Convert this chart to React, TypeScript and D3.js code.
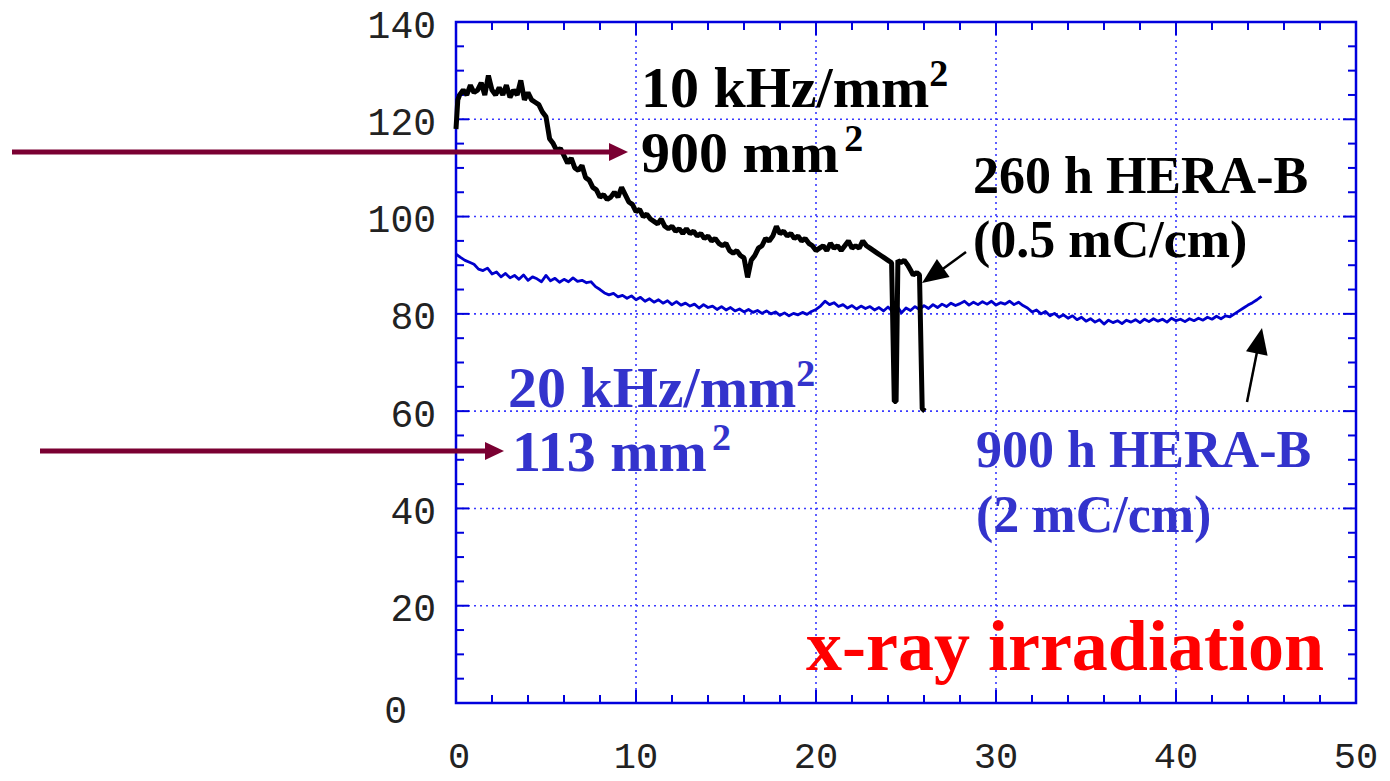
import React from "react";
import * as d3 from "d3";

// ---------- data ----------
const xTickValues = [0, 10, 20, 30, 40, 50];
const yTickValues = [0, 20, 40, 60, 80, 100, 120, 140];
const xMinorStep = 2;
const yMinorStep = 5;

// 10 kHz/mm², 900 mm² (black)
const blackSeries: [number, number][] = [
  [0, 118], [0.1, 124], [0.2, 125], [0.4, 126], [0.6, 125], [0.8, 127], [1.0, 125.5], [1.2, 126],
  [1.4, 127.5], [1.6, 125], [1.8, 129], [2.0, 126], [2.2, 125], [2.4, 126.5], [2.6, 125],
  [2.8, 127], [3.0, 124.5], [3.2, 126], [3.4, 125], [3.6, 128], [3.8, 124], [4.0, 125.5],
  [4.2, 124], [4.4, 123.5], [4.6, 123], [4.8, 121.5], [5.0, 120.5], [5.2, 116], [5.4, 115],
  [5.6, 113.5], [5.8, 114], [6.0, 112.5], [6.2, 111], [6.4, 112], [6.6, 110], [6.8, 109.5],
  [7.0, 110.5], [7.2, 108], [7.4, 107.5], [7.6, 106], [7.8, 105.5], [8.0, 104], [8.2, 104.5],
  [8.4, 103.5], [8.6, 104], [8.8, 105], [9.0, 104], [9.2, 106], [9.4, 104.5], [9.6, 103],
  [9.8, 102.5], [10.0, 101], [10.2, 101.5], [10.4, 100], [10.6, 100.5], [10.8, 99.5],
  [11.0, 99], [11.2, 98.5], [11.4, 99.5], [11.6, 98], [11.8, 97.5], [12.0, 98], [12.2, 97],
  [12.4, 97.5], [12.6, 96.5], [12.8, 97.5], [13.0, 96.5], [13.2, 97], [13.4, 96], [13.6, 96.5],
  [13.8, 95.5], [14.0, 96], [14.2, 95], [14.4, 95.5], [14.6, 94.5], [14.8, 94], [15.0, 94.5],
  [15.2, 93], [15.4, 92.5], [15.6, 93], [15.8, 92], [16.0, 91.5], [16.2, 87.5], [16.4, 91],
  [16.6, 92], [16.8, 93.5], [17.0, 94], [17.2, 95.5], [17.4, 95], [17.6, 96], [17.8, 98],
  [18.0, 96.5], [18.2, 97], [18.4, 96], [18.6, 96.5], [18.8, 95.5], [19.0, 96], [19.2, 95],
  [19.4, 95.5], [19.6, 94.5], [19.8, 94], [20.0, 93], [20.2, 93.5], [20.4, 94], [20.6, 93],
  [20.8, 94.5], [21.0, 93.5], [21.2, 94], [21.4, 93], [21.6, 94], [21.8, 95], [22.0, 93.5],
  [22.2, 94], [22.4, 93.5], [22.6, 95], [22.8, 94], [23.0, 93.5], [23.2, 93], [23.4, 92.5],
  [23.6, 92], [23.8, 91.5], [24.0, 91], [24.2, 90.5], [24.35, 62], [24.45, 62], [24.55, 91],
  [24.7, 90.5], [24.9, 91], [25.1, 90], [25.25, 89], [25.4, 88], [25.6, 88.5], [25.75, 88],
  [25.9, 60.5], [26.05, 60],
];

// 20 kHz/mm², 113 mm² (blue)
const blueStart = 0;
const blueStep = 0.25;
const blueValues = [
  92.3, 91.6, 91.0, 90.6, 90.2, 89.2, 88.9, 89.4, 88.2, 88.6,
  87.6, 88.3, 87.4, 87.9, 87.1, 88.0, 86.9, 87.6, 87.2, 86.6,
  87.9, 86.8, 87.3, 86.5, 87.1, 86.6, 87.4, 86.7, 86.9, 86.4,
  86.6, 85.6, 85.0, 84.3, 83.9, 84.2, 83.5, 83.8, 83.2, 83.7,
  82.9, 83.4, 82.6, 83.1, 82.4, 82.9, 82.2, 82.7, 81.9, 82.5,
  81.8, 82.2, 81.6, 82.0, 81.2, 81.9, 81.3, 81.6, 80.9, 81.5,
  80.8, 81.3, 80.6, 81.0, 80.4, 80.9, 80.3, 80.7, 80.1, 80.6,
  80.0, 80.4, 79.7, 80.2, 79.6, 80.1, 79.8, 80.3, 79.9, 80.5,
  80.9, 81.6, 82.6, 81.9, 82.3, 81.5, 81.9, 81.2, 81.7, 81.0,
  81.6, 81.1, 81.5, 80.8, 81.3, 80.6, 81.4, 80.5, 81.6, 80.2,
  81.2, 80.7, 81.5, 80.9, 81.7, 81.1, 81.9, 81.3, 82.0, 81.5,
  82.2, 81.7, 82.1, 82.6, 81.8, 82.4, 81.9, 82.5, 82.0, 82.6,
  81.8, 82.3, 82.0, 82.6, 81.9, 82.4, 81.7, 81.2, 80.4, 80.8,
  80.0, 80.5, 79.6, 80.1, 79.3, 79.8, 79.1, 79.6, 78.8, 79.3,
  78.5, 79.0, 78.3, 78.8, 77.9, 78.7, 78.2, 78.6, 78.0, 78.7,
  78.3, 78.8, 78.2, 78.9, 78.4, 79.0, 78.5, 78.9, 78.3, 79.1,
  78.6, 78.9, 78.4, 79.0, 78.6, 79.1, 78.7, 79.3, 78.9, 79.5,
  79.0, 79.6, 79.4, 80.0, 80.6, 81.2, 81.8, 82.3, 82.9, 83.6,
];

// ---------- layout ----------
const W = 1390;
const H = 781;
const left = 456, right = 1356, top = 22, bottom = 703;

const AXIS_BLUE = "#0000dd";
const GRID_BLUE = "#3a3aff";
const TEXT_BLUE = "#3333cc";
const LINE_BLUE = "#0000cc";
const MAROON = "#7a0032";

export default function App() {
  const x = d3.scaleLinear().domain([0, 50]).range([left, right]);
  const y = d3.scaleLinear().domain([0, 140]).range([bottom, top]);

  const line = d3
    .line<[number, number]>()
    .x((d) => x(d[0]))
    .y((d) => y(d[1]));

  const bluePts: [number, number][] = blueValues.map((v, i) => [blueStart + i * blueStep, v]);

  const xMinor = d3.range(0, 50 + 1e-9, xMinorStep).filter((v) => v % 10 !== 0);
  const yMinor = d3.range(0, 140 + 1e-9, yMinorStep).filter((v) => v % 20 !== 0);

  const serif = "'Liberation Serif', 'Times New Roman', serif";
  const mono = "'Liberation Mono', 'DejaVu Sans Mono', monospace";

  const arrowHead = (x1: number, y1: number, x2: number, y2: number, len: number, hw: number) => {
    const a = Math.atan2(y2 - y1, x2 - x1);
    const bx = x2 - len * Math.cos(a);
    const by = y2 - len * Math.sin(a);
    const px = -Math.sin(a) * hw;
    const py = Math.cos(a) * hw;
    return `${x2},${y2} ${bx + px},${by + py} ${bx - px},${by - py}`;
  };

  return (
    <svg
      width={W}
      height={H}
      style={{ position: "absolute", left: 0, top: 0, background: "#fff" }}
    >
      <rect x={0} y={0} width={W} height={H} fill="#fff" />
      {/* grid */}
      {xTickValues.filter((v) => v > 0 && v < 50).map((v) => (
        <line key={"gx" + v} x1={x(v)} x2={x(v)} y1={top} y2={bottom}
          stroke={GRID_BLUE} strokeWidth={1.6} strokeDasharray="2,4" />
      ))}
      {yTickValues.filter((v) => v > 0 && v < 140).map((v) => (
        <line key={"gy" + v} x1={left} x2={right} y1={y(v)} y2={y(v)}
          stroke={GRID_BLUE} strokeWidth={1.6} strokeDasharray="2,4" />
      ))}

      {/* ticks */}
      {xTickValues.map((v) => (
        <g key={"tx" + v}>
          <line x1={x(v)} x2={x(v)} y1={bottom} y2={bottom - 13} stroke={AXIS_BLUE} strokeWidth={2} />
          <line x1={x(v)} x2={x(v)} y1={top} y2={top + 13} stroke={AXIS_BLUE} strokeWidth={2} />
        </g>
      ))}
      {xMinor.map((v) => (
        <g key={"mx" + v}>
          <line x1={x(v)} x2={x(v)} y1={bottom} y2={bottom - 8} stroke={AXIS_BLUE} strokeWidth={2} />
          <line x1={x(v)} x2={x(v)} y1={top} y2={top + 8} stroke={AXIS_BLUE} strokeWidth={2} />
        </g>
      ))}
      {yTickValues.map((v) => (
        <g key={"ty" + v}>
          <line x1={left} x2={left + 13} y1={y(v)} y2={y(v)} stroke={AXIS_BLUE} strokeWidth={2} />
          <line x1={right} x2={right - 13} y1={y(v)} y2={y(v)} stroke={AXIS_BLUE} strokeWidth={2} />
        </g>
      ))}
      {yMinor.map((v) => (
        <g key={"my" + v}>
          <line x1={left} x2={left + 8} y1={y(v)} y2={y(v)} stroke={AXIS_BLUE} strokeWidth={2} />
          <line x1={right} x2={right - 8} y1={y(v)} y2={y(v)} stroke={AXIS_BLUE} strokeWidth={2} />
        </g>
      ))}

      {/* frame */}
      <rect x={left} y={top} width={right - left} height={bottom - top}
        fill="none" stroke={AXIS_BLUE} strokeWidth={2.5} />

      {/* tick labels */}
      {yTickValues.map((v) => (
        <text key={"ly" + v} x={v === 0 ? 407 : 436} y={y(v) + (v === 0 ? 9 : 5)}
          textAnchor="end" dominantBaseline="central"
          fontFamily={mono} fontSize={38} fill="#222">
          {String(v)}
        </text>
      ))}
      {xTickValues.map((v) => (
        <text key={"lx" + v} x={x(v) + (v === 0 ? 3 : 0)} y={758}
          textAnchor="middle" dominantBaseline="central"
          fontFamily={mono} fontSize={37} fill="#222">
          {String(v)}
        </text>
      ))}

      {/* data */}
      <path d={line(bluePts) || ""} fill="none" stroke={LINE_BLUE} strokeWidth={2.8} strokeLinejoin="round" />
      <path d={line(blackSeries) || ""} fill="none" stroke="#000" strokeWidth={5} strokeLinejoin="bevel" />

      {/* maroon arrows */}
      <line x1={12} y1={152} x2={612} y2={152} stroke={MAROON} strokeWidth={5} />
      <polygon points={arrowHead(12, 152, 628, 152, 19, 9)} fill={MAROON} />
      <line x1={40} y1={451} x2={488} y2={451} stroke={MAROON} strokeWidth={5} />
      <polygon points={arrowHead(40, 451, 504, 451, 19, 9)} fill={MAROON} />

      {/* black arrows */}
      <line x1={966} y1={252} x2={940} y2={271} stroke="#000" strokeWidth={2.5} />
      <polygon points={arrowHead(966, 252, 922, 283, 26, 11)} fill="#000" />
      <line x1={1247} y1={402} x2={1257} y2={352} stroke="#000" strokeWidth={2.5} />
      <polygon points={arrowHead(1247, 402, 1262, 328, 26, 11)} fill="#000" />

      {/* annotations */}
      <g fontFamily={serif} fontWeight="bold">
        <text x={641} y={107} fontSize={58} fill="#000">
          10 kHz/mm<tspan fontSize={38} dy={-21}>2</tspan>
        </text>
        <text x={641} y={172} fontSize={58} fill="#000">
          900 mm<tspan fontSize={38} dx={5} dy={-21}>2</tspan>
        </text>
        <text x={973} y={193} fontSize={52} fill="#000">260 h HERA-B</text>
        <text x={973} y={257} fontSize={52} fill="#000">(0.5 mC/cm)</text>

        <text x={508} y={407} fontSize={58} fill={TEXT_BLUE}>
          20 kHz/mm<tspan fontSize={38} dy={-21}>2</tspan>
        </text>
        <text x={512} y={471} fontSize={58} fill={TEXT_BLUE}>
          113 mm<tspan fontSize={38} dx={5} dy={-21}>2</tspan>
        </text>
        <text x={976} y={467} fontSize={52} fill={TEXT_BLUE}>900 h HERA-B</text>
        <text x={976} y={532} fontSize={52} fill={TEXT_BLUE}>(2 mC/cm)</text>

        <text x={806} y={670} fontSize={72} fill="#ff0000">x-ray irradiation</text>
      </g>
    </svg>
  );
}
